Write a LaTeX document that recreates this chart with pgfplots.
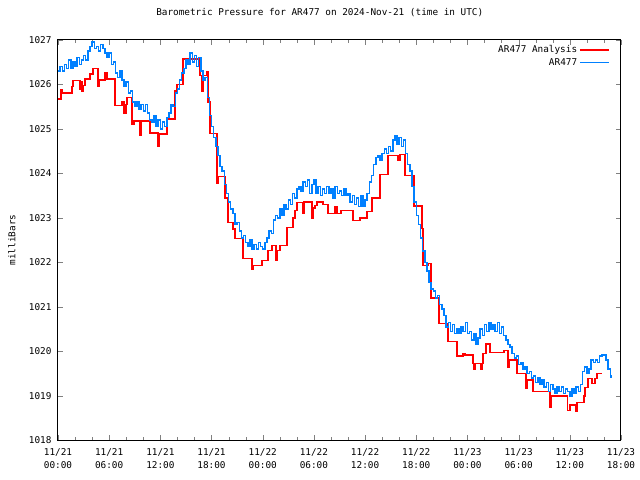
\documentclass[border=0pt]{standalone}
\usepackage{fontspec}
\setmainfont{DejaVu Sans Mono}
\usepackage{pgfplots}
\pgfplotsset{compat=1.18}
\definecolor{obsblue}{RGB}{0,128,255}
\definecolor{anred}{RGB}{255,0,0}
\pgfplotsset{
  redline/.style={draw=anred, line width=1.5bp, const plot, forget plot},
  blueline/.style={draw=obsblue, line width=1.5bp, const plot, forget plot},
}
\begin{document}
\begin{tikzpicture}
\useasboundingbox (-58bp,-39.7bp) rectangle (582bp,440.3bp);
\begin{axis}[
  at={(0,0)}, anchor=south west,
  scale only axis, width=563bp, height=400.5bp,
  xmin=0, xmax=66, ymin=1018, ymax=1027,
  xtick={0,6,...,66},
  xticklabels={{11/21\\00:00},{11/21\\06:00},{11/21\\12:00},{11/21\\18:00},{11/22\\00:00},{11/22\\06:00},{11/22\\12:00},{11/22\\18:00},{11/23\\00:00},{11/23\\06:00},{11/23\\12:00},{11/23\\18:00}},
  xticklabel style={align=center, font=\fontsize{9.4}{13}\selectfont, yshift=-5bp},
  minor x tick num=2,
  ytick={1018,1019,...,1027},
  yticklabel style={font=\fontsize{9.4}{11}\selectfont, xshift=-3bp},
  /pgf/number format/assume math mode=true,
  /pgf/number format/1000 sep={},
  tick align=inside, tick pos=both,
  major tick length=5bp, minor tick length=3bp,
  axis line style={line width=1bp},
  title={Barometric Pressure for AR477 on 2024-Nov-21 (time in UTC)},
  title style={at={(axis description cs:0.465,1.052)}, anchor=center, yshift=0pt, font=\fontsize{9.4}{11}\selectfont},
  ylabel={milliBars},
  ylabel style={at={(axis description cs:-0.082,0.5)}, anchor=center, font=\fontsize{9.4}{11}\selectfont},
  legend style={draw=none, fill=none, at={(0.982,0.993)}, anchor=north east, font=\fontsize{9.4}{11}\selectfont, row sep=0bp, inner sep=1bp},
  legend cell align=right,
  legend plot pos=right,
  legend image code/.code={\draw[#1] (0bp,0bp) -- (29bp,0bp);},
]
\addplot[redline] coordinates {
(0,1025.67) (0.35,1025.88) (0.47,1025.80) (1.64,1025.95) (1.76,1026.08) (2.58,1025.90) (2.7,1026.05) (2.8,1025.85) (2.93,1025.97)
(3.17,1026.12) (3.75,1026.23) (4.1,1026.35) (4.69,1025.95) (4.8,1026.10) (5.5,1026.25) (5.74,1026.12) (6.68,1025.52)
(7.5,1025.60) (7.74,1025.35) (7.97,1025.55) (8.1,1025.70) (8.68,1025.10) (8.9,1025.18) (9.6,1024.85) (9.73,1025.18)
(10.8,1024.91) (11.72,1024.60) (11.84,1024.88) (12.78,1025.22) (13.7,1025.85) (13.95,1026.00) (14.65,1026.57)
(16.65,1026.20) (16.9,1025.85) (17.0,1026.20) (17.4,1026.28) (17.58,1025.60) (17.8,1024.90)
(18.64,1023.77) (18.76,1023.93) (19.58,1023.45)
(19.93,1022.90) (20.5,1022.75) (20.75,1022.53) (21.7,1022.09) (22.74,1021.85) (22.86,1021.93) (23.9,1022.04)
(24.6,1022.26) (25.1,1022.38) (25.55,1022.05) (25.67,1022.26) (26.0,1022.38) (26.85,1022.78) (27.55,1023.00)
(27.8,1023.16) (28.0,1023.34) (28.7,1023.10) (28.84,1023.35) (29.78,1022.98) (29.9,1023.22) (30.1,1023.28)
(30.35,1023.35) (31.07,1023.30) (31.65,1023.10) (32.5,1023.25) (32.7,1023.10) (33.2,1023.16) (34.6,1022.94)
(35.4,1023.00) (36.2,1023.14) (36.8,1023.45) (37.75,1023.97) (38.7,1024.40) (39.86,1024.30) (40.1,1024.42)
(40.68,1023.95) (41.72,1023.27) (42.67,1022.76) (42.8,1021.93) (43.4,1021.97) (43.73,1021.20) (44.67,1020.63)
(45.7,1020.22) (46.8,1019.89) (47.5,1019.95) (47.7,1019.92) (48.65,1019.73) (48.77,1019.60) (48.9,1019.73)
(49.6,1019.60) (49.7,1019.73) (49.8,1019.95) (50.2,1020.16) (50.65,1019.97) (52.3,1020.02) (52.75,1019.64)
(52.85,1019.80) (53.8,1019.50) (54.87,1019.17) (55.0,1019.35) (55.7,1019.10) (57.7,1018.74) (57.8,1018.99)
(59.7,1018.67) (60.0,1018.79) (60.7,1018.65) (60.85,1018.85) (61.67,1019.00) (61.8,1019.19) (62.15,1019.39)
(62.6,1019.28) (62.95,1019.39) (63.2,1019.50) (63.8,1019.50)
};
\addlegendimage{draw=anred, line width=1.5bp}
\addlegendentry{AR477 Analysis}
\addplot[blueline] coordinates {
(0.0,1026.30) (0.25,1026.40) (0.5,1026.30) (0.75,1026.45) (1.0,1026.35) (1.25,1026.55) (1.5,1026.35) (1.75,1026.50)
(2.0,1026.40) (2.25,1026.60) (2.5,1026.45) (2.75,1026.55) (3.0,1026.65) (3.25,1026.55) (3.5,1026.75) (3.75,1026.85)
(4.0,1026.95) (4.25,1026.80) (4.5,1026.85) (4.75,1026.75) (5.0,1026.90) (5.25,1026.80) (5.5,1026.70) (5.75,1026.60)
(6.0,1026.70) (6.25,1026.45) (6.5,1026.50) (6.75,1026.25) (7.0,1026.15) (7.25,1026.30) (7.5,1026.10) (7.75,1025.95)
(8.0,1026.05) (8.25,1025.80) (8.5,1025.85) (8.75,1025.60) (9.0,1025.50) (9.25,1025.60) (9.5,1025.45) (9.75,1025.55)
(10.0,1025.40) (10.25,1025.55) (10.5,1025.35) (10.75,1025.20) (11.0,1025.15) (11.25,1025.30) (11.5,1025.05) (11.75,1025.20)
(12.0,1025.00) (12.25,1025.15) (12.5,1025.05) (12.75,1025.25) (13.0,1025.35) (13.25,1025.55) (13.5,1025.50) (13.75,1025.80)
(14.0,1025.90) (14.25,1026.10) (14.5,1026.25) (14.75,1026.35) (15.0,1026.55) (15.25,1026.45) (15.5,1026.70) (15.75,1026.50)
(16.0,1026.65) (16.25,1026.40) (16.5,1026.60) (16.75,1026.30) (17.0,1026.10) (17.25,1026.15) (17.5,1025.70) (17.75,1025.30)
(18.0,1025.05) (18.25,1024.80) (18.5,1024.60) (18.75,1024.40) (19.0,1024.15) (19.25,1024.05) (19.5,1023.75) (19.75,1023.55)
(20.0,1023.35) (20.25,1023.20) (20.5,1023.10) (20.75,1022.85) (21.0,1022.90) (21.25,1022.70) (21.5,1022.55) (21.75,1022.60)
(22.0,1022.45) (22.25,1022.35) (22.5,1022.50) (22.75,1022.30) (23.0,1022.40) (23.25,1022.30) (23.5,1022.45) (23.75,1022.35)
(24.0,1022.30) (24.25,1022.45) (24.5,1022.55) (24.75,1022.70) (25.0,1022.65) (25.25,1022.95) (25.5,1023.05) (25.75,1023.00)
(26.0,1023.20) (26.25,1023.05) (26.5,1023.30) (26.75,1023.20) (27.0,1023.40) (27.25,1023.30) (27.5,1023.55) (27.75,1023.45)
(28.0,1023.65) (28.25,1023.70) (28.5,1023.60) (28.75,1023.80) (29.0,1023.70) (29.25,1023.85) (29.5,1023.55) (29.75,1023.75)
(30.0,1023.85) (30.25,1023.55) (30.5,1023.70) (30.75,1023.50) (31.0,1023.65) (31.25,1023.55) (31.5,1023.70) (31.75,1023.55)
(32.0,1023.65) (32.25,1023.45) (32.5,1023.70) (32.75,1023.55) (33.0,1023.60) (33.25,1023.50) (33.5,1023.65) (33.75,1023.50)
(34.0,1023.55) (34.25,1023.35) (34.5,1023.50) (34.75,1023.30) (35.0,1023.45) (35.25,1023.25) (35.5,1023.50) (35.75,1023.25)
(36.0,1023.40) (36.25,1023.55) (36.5,1023.80) (36.75,1023.95) (37.0,1024.20) (37.25,1024.35) (37.5,1024.40) (37.75,1024.30)
(38.0,1024.45) (38.25,1024.55) (38.5,1024.45) (38.75,1024.60) (39.0,1024.50) (39.25,1024.75) (39.5,1024.85) (39.75,1024.65)
(40.0,1024.80) (40.25,1024.60) (40.5,1024.75) (40.75,1024.45) (41.0,1024.20) (41.25,1024.05) (41.5,1023.70) (41.75,1023.35)
(42.0,1023.05) (42.25,1022.85) (42.5,1022.55) (42.75,1022.25) (43.0,1022.00) (43.25,1021.80) (43.5,1021.55) (43.75,1021.40)
(44.0,1021.35) (44.25,1021.20) (44.5,1021.25) (44.75,1021.05) (45.0,1020.95) (45.25,1020.80) (45.5,1020.55) (45.75,1020.65)
(46.0,1020.45) (46.25,1020.60) (46.5,1020.40) (46.75,1020.50) (47.0,1020.40) (47.25,1020.55) (47.5,1020.45) (47.75,1020.65)
(48.0,1020.40) (48.25,1020.45) (48.5,1020.25) (48.75,1020.40) (49.0,1020.15) (49.25,1020.30) (49.5,1020.50) (49.75,1020.35)
(50.0,1020.60) (50.25,1020.45) (50.5,1020.65) (50.75,1020.50) (51.0,1020.60) (51.25,1020.45) (51.5,1020.65) (51.75,1020.40)
(52.0,1020.55) (52.25,1020.35) (52.5,1020.25) (52.75,1020.15) (53.0,1020.10) (53.25,1019.95) (53.5,1019.85) (53.75,1019.90)
(54.0,1019.70) (54.25,1019.75) (54.5,1019.60) (54.75,1019.65) (55.0,1019.50) (55.25,1019.55) (55.5,1019.40) (55.75,1019.45)
(56.0,1019.30) (56.25,1019.40) (56.5,1019.25) (56.75,1019.35) (57.0,1019.20) (57.25,1019.30) (57.5,1019.10) (57.75,1019.25)
(58.0,1019.15) (58.25,1019.05) (58.5,1019.20) (58.75,1019.10) (59.0,1019.20) (59.25,1019.05) (59.5,1019.15) (59.75,1019.10)
(60.0,1019.00) (60.25,1019.15) (60.5,1019.05) (60.75,1019.20) (61.0,1019.10) (61.25,1019.25) (61.5,1019.55) (61.75,1019.65)
(62.0,1019.50) (62.25,1019.60) (62.5,1019.80) (62.75,1019.75) (63.0,1019.80) (63.25,1019.75) (63.5,1019.90) (63.75,1019.92)
(64.0,1019.92) (64.25,1019.80) (64.5,1019.60) (64.75,1019.45) (64.85,1019.40)
};
\addlegendimage{draw=obsblue, line width=1.5bp}
\addlegendentry{AR477}
\end{axis}
\end{tikzpicture}
\end{document}
